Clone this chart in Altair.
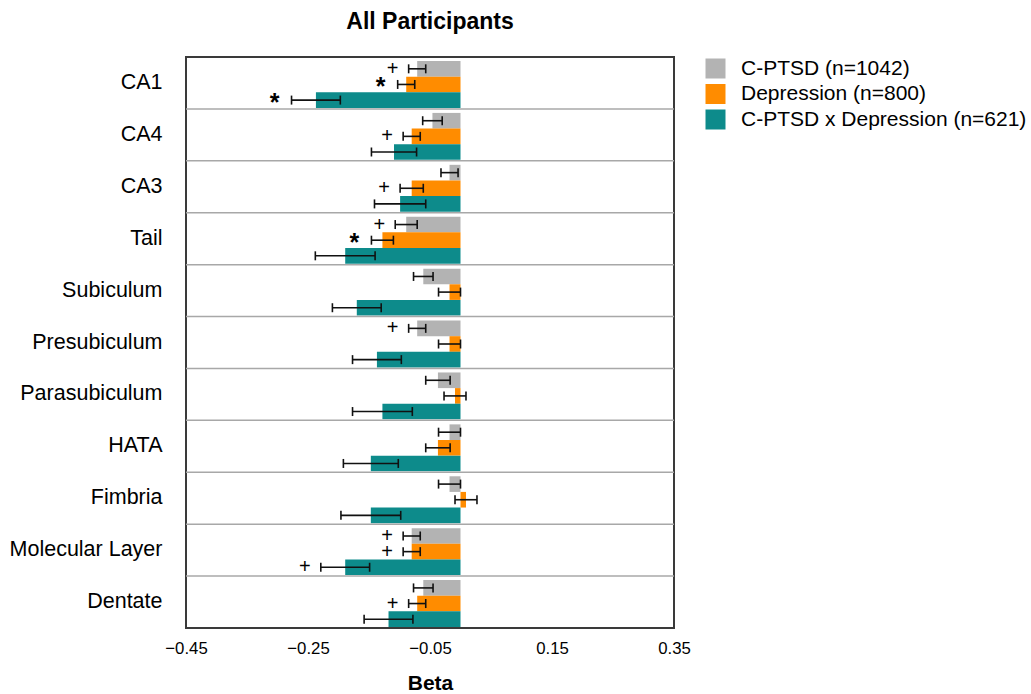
import altair as alt
import pandas as pd

# Hippocampal subfields, top to bottom
regions = ["CA1", "CA4", "CA3", "Tail", "Subiculum", "Presubiculum",
           "Parasubiculum", "HATA", "Fimbria", "Molecular Layer", "Dentate"]

series = ["C-PTSD (n=1042)", "Depression (n=800)", "C-PTSD x Depression (n=621)"]
colors = ["#b3b3b3", "#ff8c00", "#0d8b8b"]

# Standardised betas, standard errors and significance markers per group
cptsd_beta = [-0.071, -0.046, -0.018, -0.089, -0.061, -0.071, -0.037, -0.018, -0.018, -0.080, -0.061]
cptsd_se = [0.014, 0.016, 0.014, 0.018, 0.016, 0.014, 0.020, 0.018, 0.018, 0.014, 0.016]
cptsd_sig = ["+", "", "", "+", "", "+", "", "", "", "+", ""]

depression_beta = [-0.089, -0.080, -0.080, -0.128, -0.018, -0.018, -0.009, -0.037, 0.009, -0.080, -0.071]
depression_se = [0.014, 0.014, 0.019, 0.018, 0.018, 0.018, 0.018, 0.020, 0.018, 0.014, 0.014]
depression_sig = ["*", "+", "+", "*", "", "", "", "", "", "+", "+"]

interaction_beta = [-0.237, -0.109, -0.099, -0.189, -0.170, -0.137, -0.128, -0.147, -0.147, -0.189, -0.118]
interaction_se = [0.040, 0.037, 0.042, 0.049, 0.040, 0.040, 0.049, 0.045, 0.049, 0.040, 0.040]
interaction_sig = ["*", "", "", "", "", "", "", "", "", "+", ""]

x_ticks = [-0.45, -0.25, -0.05, 0.15, 0.35]

rows = []
for name, betas, ses, sigs in zip(
    series,
    [cptsd_beta, depression_beta, interaction_beta],
    [cptsd_se, depression_se, interaction_se],
    [cptsd_sig, depression_sig, interaction_sig],
):
    for region, b, se, sig in zip(regions, betas, ses, sigs):
        rows.append({"region": region, "series": name, "beta": b,
                     "lo": b - se, "hi": b + se, "sig": sig})
df = pd.DataFrame(rows)

FONT = "Liberation Sans"
W, H = 488, 571

y_enc = alt.Y("region:N", sort=regions,
              scale=alt.Scale(paddingInner=0, paddingOuter=0),
              axis=alt.Axis(title=None, ticks=False, domain=False,
                            labelFontSize=21.5, labelPadding=24,
                            labelColor="#000", labelFont=FONT))
off_enc = alt.YOffset("series:N", sort=series,
                      scale=alt.Scale(paddingInner=0, paddingOuter=0.16, align=0.8))
x_scale = alt.Scale(domain=[-0.45, 0.35], nice=False, zero=False)

base = alt.Chart(df)

bars = base.mark_bar(opacity=1).encode(
    x=alt.X("beta:Q", scale=x_scale,
            axis=alt.Axis(values=x_ticks, format=".2f", ticks=False, domain=False,
                          grid=False, labelFlush=False, labelOverlap=False,
                          labelFontSize=16.8, labelPadding=12,
                          labelColor="#000", labelFont=FONT,
                          title="Beta", titleFontSize=21, titleFont=FONT,
                          titleFontWeight="bold", titleColor="#000",
                          titleBaseline="alphabetic", titleY=61, titleX=W / 2)),
    x2=alt.datum(0),
    y=y_enc,
    yOffset=off_enc,
    color=alt.Color("series:N", sort=series,
                    scale=alt.Scale(domain=series, range=colors),
                    legend=alt.Legend(title=None, orient="none", legendX=519, legendY=1,
                                      symbolType="square", symbolSize=400,
                                      symbolStrokeWidth=0, symbolOpacity=1,
                                      labelFontSize=21, labelFont=FONT,
                                      labelColor="#000", labelOffset=15,
                                      labelLimit=0, rowPadding=3.5, padding=0)),
)

# Group separators at the bottom of each band
sep = alt.Chart(pd.DataFrame({"region": regions[:-1]})).mark_rule(
    color="#a8a8a8", strokeWidth=1.5
).encode(y=alt.Y("region:N", sort=regions, bandPosition=1))

err = base.mark_rule(color="#111", strokeWidth=1.6).encode(
    x=alt.X("lo:Q", scale=x_scale), x2="hi:Q", y=y_enc, yOffset=off_enc
)

caps = base.transform_fold(["lo", "hi"], as_=["end", "pos"]).mark_tick(
    color="#111", thickness=1.6, size=9, opacity=1
).encode(x=alt.X("pos:Q", scale=x_scale), y=y_enc, yOffset=off_enc)

plus = base.transform_filter(alt.datum.sig == "+").mark_text(
    fontSize=20, font=FONT, color="#000", dx=-16, baseline="middle", align="center"
).encode(x=alt.X("lo:Q", scale=x_scale), y=y_enc, yOffset=off_enc, text="sig:N")

star = base.transform_filter(alt.datum.sig == "*").mark_text(
    fontSize=25, font=FONT, fontWeight="bold", color="#000", dx=-17, dy=3,
    baseline="middle", align="center"
).encode(x=alt.X("lo:Q", scale=x_scale), y=y_enc, yOffset=off_enc, text="sig:N")

chart = alt.layer(bars, sep, err, caps, plus, star).properties(
    width=W, height=H,
    title=alt.TitleParams("All Participants", fontSize=23, font=FONT,
                          fontWeight="bold", anchor="middle", color="#000",
                          baseline="alphabetic", offset=5),
    autosize=alt.AutoSizeParams(type="none"),
    padding={"left": 186, "top": 57, "right": 357, "bottom": 66},
).configure(
    background="white",
    view=alt.ViewConfig(stroke="#3a3a3a", strokeWidth=2),
)

chart.save("out.html", embed_options={"renderer": "svg", "actions": False})
